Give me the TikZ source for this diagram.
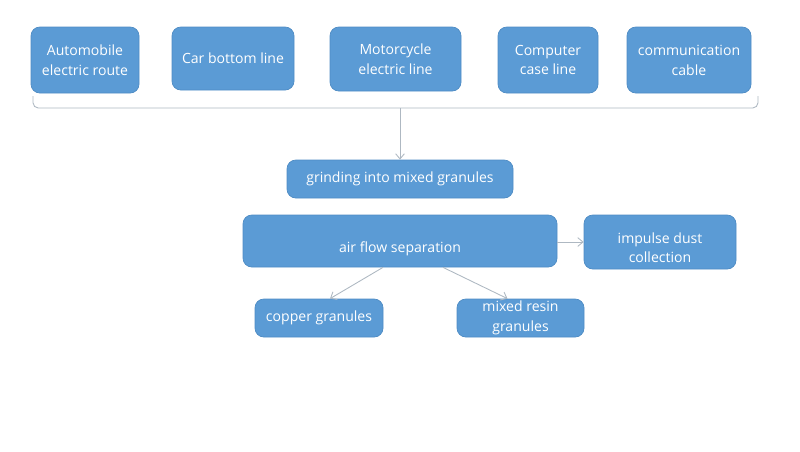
\documentclass[tikz,border=0pt]{standalone}
\usepackage{fontspec}
\setmainfont{Open Sans}
\usetikzlibrary{arrows.meta, positioning}

\definecolor{boxblue}{HTML}{5B9BD5}
\definecolor{boxedge}{HTML}{4F8CC4}
\definecolor{linkgray}{HTML}{AEB8C2}

\newcommand{\lowtext}[1]{\raisebox{-4pt}[\height][\depth]{\begin{tabular}{@{}c@{}}#1\end{tabular}}}

\begin{document}
\begin{tikzpicture}[x=0.02cm, y=-0.02cm,
            stagebox/.style={rectangle, rounded corners=5pt, fill=boxblue, draw=boxedge, line width=0.4pt,
                text=white, font=\fontsize{8}{11.3}\selectfont, align=center, inner sep=0pt},
            link/.style={draw=linkgray, line width=0.5pt, -{Straight Barb[length=3pt, width=5pt]}}]
        \useasboundingbox (0,0) rectangle (800,451);
        % source cables
        \node[stagebox, minimum width=108*0.02cm, minimum height=66*0.02cm] (auto) at (85,60) {Automobile\\electric route};
        \node[stagebox, minimum width=122*0.02cm, minimum height=63*0.02cm] (car) at (233,58.5) {Car bottom line};
        \node[stagebox, minimum width=131*0.02cm, minimum height=64*0.02cm] (moto) at (395.5,59) {Motorcycle\\electric line};
        \node[stagebox, minimum width=100*0.02cm, minimum height=66*0.02cm] (comp) at (548,60) {Computer\\case line};
        \node[stagebox, minimum width=124*0.02cm, minimum height=66*0.02cm] (comm) at (689,60) {communication\\cable};
        % process
        \node[stagebox, minimum width=226*0.02cm, minimum height=38*0.02cm] (grind) at (400,179) {grinding into mixed granules};
        \node[stagebox, minimum width=314*0.02cm, minimum height=52*0.02cm] (air) at (400,241) {\lowtext{air flow separation}};
        \node[stagebox, minimum width=152*0.02cm, minimum height=54*0.02cm] (dust) at (660,242) {\lowtext{impulse dust\\collection}};
        \node[stagebox, minimum width=128*0.02cm, minimum height=38*0.02cm] (copper) at (319,318) {copper granules};
        \node[stagebox, minimum width=127*0.02cm, minimum height=38*0.02cm] (resin) at (520.5,318) {mixed resin\\granules};
        % bracket and links
        \coordinate (bl) at (33,96);
        \coordinate (br) at (758,96);
        \coordinate (tip) at (400,108);
        \draw[linkgray, line width=0.5pt, rounded corners=3pt] (bl) |- (tip) -| (br);
        \draw[link] (tip) -- (grind.north);
        \draw[link] (air.east |- dust.west) -- (dust.west);
        \draw[link] ([xshift=-17*0.02cm]air.south) -- ([xshift=11*0.02cm]copper.north);
        \draw[link] ([xshift=43*0.02cm]air.south) -- ([xshift=-13*0.02cm]resin.north);
    \end{tikzpicture}
\end{document}
